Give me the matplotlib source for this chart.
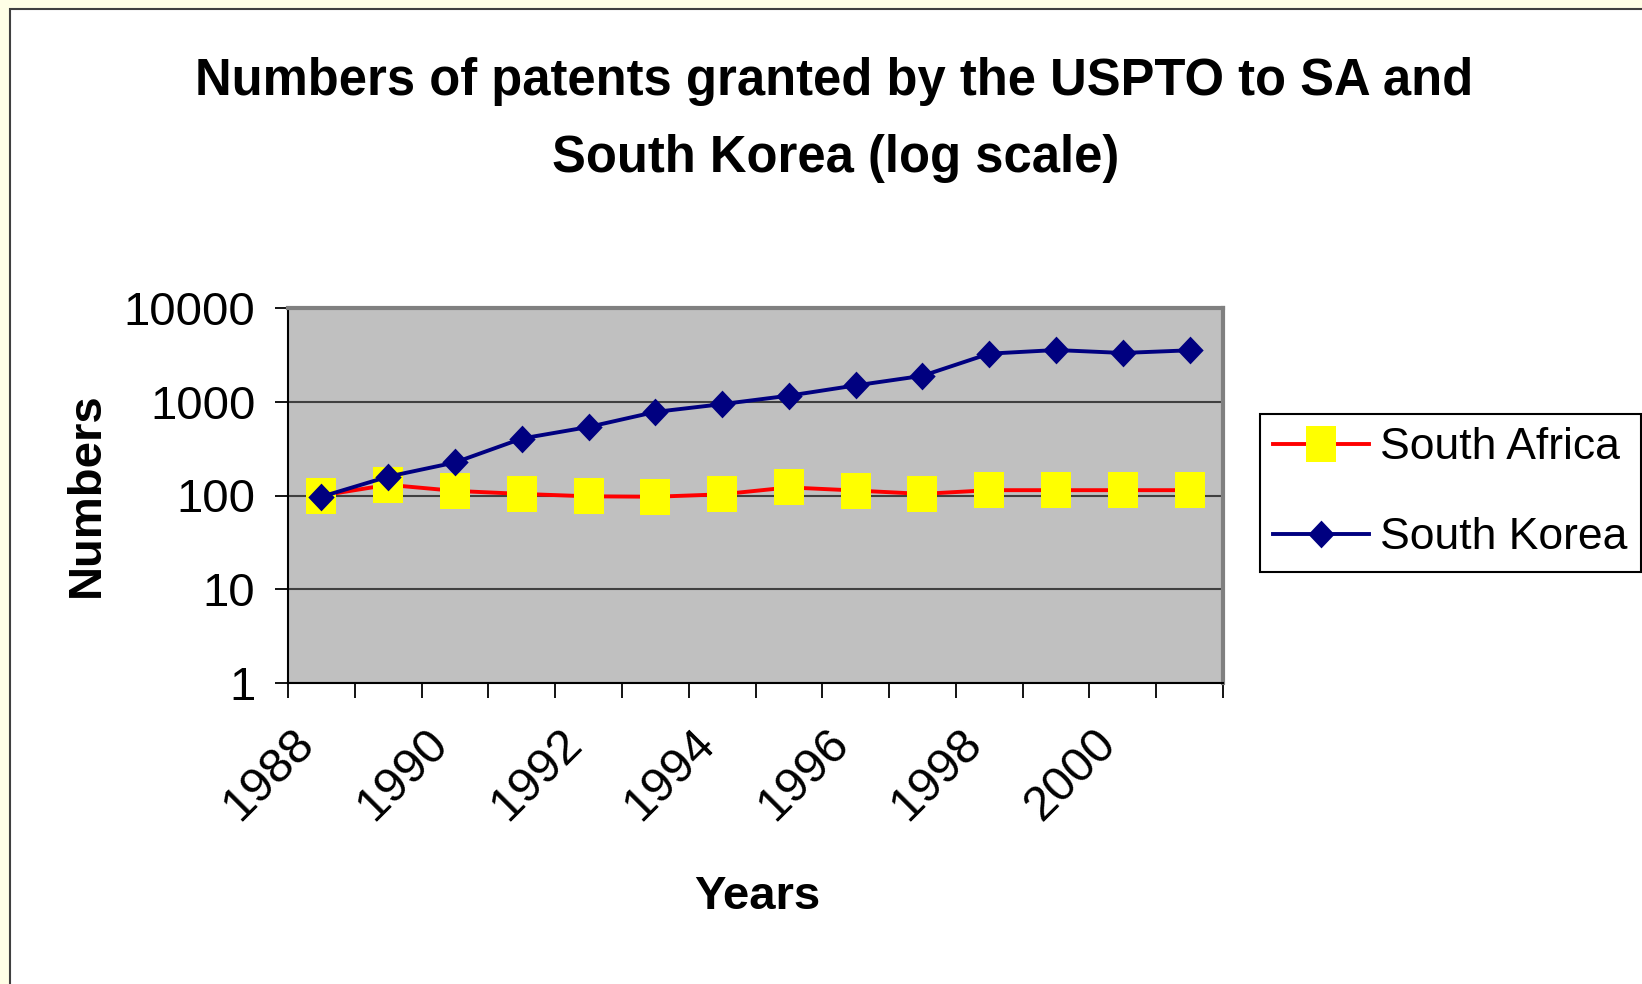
import matplotlib
matplotlib.use("Agg")
import matplotlib.pyplot as plt
import matplotlib.transforms as mtransforms
from matplotlib import font_manager
from matplotlib.path import Path
from matplotlib.patches import Rectangle
from matplotlib.ticker import FixedLocator, NullFormatter

# data
years = [1988, 1989, 1990, 1991, 1992, 1993, 1994, 1995, 1996, 1997, 1998, 1999, 2000, 2001]
south_africa = [100, 130, 112, 104, 98, 97, 103, 122, 113, 104, 114, 114, 114, 114]
south_korea = [97, 159, 225, 405, 538, 779, 943, 1161, 1493, 1891, 3259, 3562, 3314, 3538]
ytick_vals = [1, 10, 100, 1000, 10000]

names = {f.name for f in font_manager.fontManager.ttflist}
narrow = "Liberation Sans Narrow" if "Liberation Sans Narrow" in names else "Liberation Sans"
title_size = 42 if narrow == "Liberation Sans Narrow" else 36.5
plt.rcParams["font.family"] = ["Liberation Sans", "DejaVu Sans"]

# marker shapes (a bit taller than wide, like the original)
sq = Path([(-0.85, -1), (0.85, -1), (0.85, 1), (-0.85, 1), (-0.85, -1)],
          [Path.MOVETO, Path.LINETO, Path.LINETO, Path.LINETO, Path.CLOSEPOLY])
dia = Path([(0, -1), (0.95, 0), (0, 1), (-0.95, 0), (0, -1)],
           [Path.MOVETO, Path.LINETO, Path.LINETO, Path.LINETO, Path.CLOSEPOLY])

fig = plt.figure(figsize=(16.42, 9.84), dpi=100, facecolor="#FFFFE6")
# white chart area with dark border, sitting on the pale yellow page
fig.patches.append(Rectangle((10 / 1642, -0.01), 1.02, 1 - 9 / 984 + 0.01,
                             transform=fig.transFigure, facecolor="white",
                             edgecolor="#404040", linewidth=1.5, zorder=-5))

ax = fig.add_axes([288 / 1642, 1 - 683 / 984, (1223 - 288) / 1642, (683 - 308) / 984])
ax.set_facecolor("#C0C0C0")

x = list(range(len(years)))
l1, = ax.plot(x, south_africa, color="red", lw=2.8, marker=sq, markersize=26,
              markerfacecolor="yellow", markeredgewidth=0, label="South Africa", zorder=3)
l2, = ax.plot(x, south_korea, color="#000080", lw=2.8, marker=dia, markersize=20,
              markerfacecolor="#000080", markeredgewidth=0, label="South Korea", zorder=4)

ax.set_yscale("log")
ax.set_ylim(1, 10000)
ax.set_xlim(-0.5, len(years) - 0.5)
ax.yaxis.set_major_locator(FixedLocator(ytick_vals))
ax.yaxis.set_minor_locator(FixedLocator([]))
ax.set_yticklabels([str(v) for v in ytick_vals])
ax.grid(axis="y", which="major", color="#404040", lw=1.5)
ax.set_axisbelow(True)

ax.set_xticks(x[::2])
ax.set_xticklabels([str(y) for y in years[::2]], rotation=45, ha="right", va="top")
ax.set_xticks([i - 0.5 for i in range(len(years) + 1)], minor=True)
ax.xaxis.set_minor_formatter(NullFormatter())
ax.tick_params(axis="x", which="major", length=0, pad=27, labelsize=35)
ax.tick_params(axis="x", which="minor", length=11, width=1.3, direction="out", color="black")
ax.tick_params(axis="y", which="major", length=9.5, width=1.3, direction="out", pad=14, labelsize=34)
off = mtransforms.ScaledTranslation(2 / 100, 0, fig.dpi_scale_trans)
for lab in ax.get_xticklabels():
    lab.set_transform(lab.get_transform() + off)

for s in ["top", "right"]:
    ax.spines[s].set_color("#808080")
    ax.spines[s].set_linewidth(3)
for s in ["left", "bottom"]:
    ax.spines[s].set_color("black")
    ax.spines[s].set_linewidth(1.5)

fig.text(834 / 1642, 1 - 82 / 984, "Numbers of patents granted by the USPTO to SA and",
         family=narrow, weight="bold", fontsize=title_size, ha="center", va="center")
fig.text(836 / 1642, 1 - 158 / 984, "South Korea (log scale)",
         family=narrow, weight="bold", fontsize=title_size, ha="center", va="center")
fig.text(87 / 1642, 1 - 495 / 984, "Numbers", family=narrow, weight="bold",
         fontsize=34, rotation=90, ha="center", va="center")
fig.text(757 / 1642, 1 - 897 / 984, "Years", family=narrow, weight="bold",
         fontsize=34, ha="center", va="center")

leg = fig.legend(handles=[l1, l2], loc="upper left",
                 bbox_to_anchor=(1260 / 1642, 1 - 414 / 984),
                 fontsize=32, frameon=True, fancybox=False, numpoints=1,
                 handlelength=2.15, handletextpad=0.26, borderpad=0.3,
                 labelspacing=1.1, borderaxespad=0)
leg.get_frame().set_edgecolor("black")
leg.get_frame().set_linewidth(1.5)
leg.get_frame().set_facecolor("white")
leg.get_frame().set_alpha(1)

fig.savefig("out.png", dpi=100, facecolor=fig.get_facecolor())
